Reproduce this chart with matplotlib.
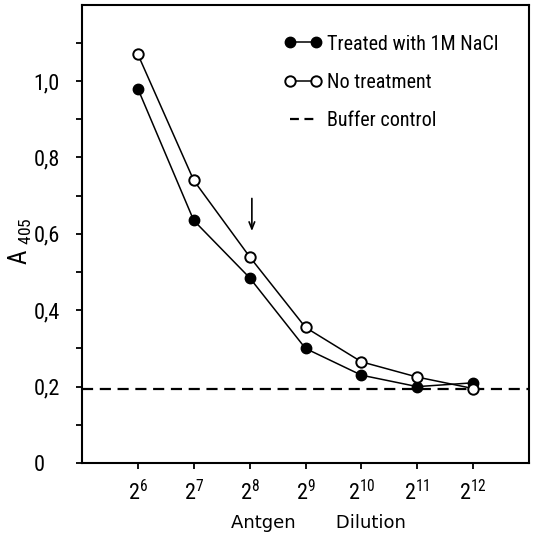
import numpy as np
import matplotlib
matplotlib.use('Agg')
import matplotlib.pyplot as plt
from matplotlib import font_manager
from matplotlib.lines import Line2D

# data
dilution_exp = [6, 7, 8, 9, 10, 11, 12]
treated_nacl = [0.98, 0.635, 0.485, 0.30, 0.23, 0.20, 0.21]
no_treatment = [1.07, 0.74, 0.54, 0.355, 0.265, 0.225, 0.195]
buffer_control = 0.195

y_ticks = [0, 0.2, 0.4, 0.6, 0.8, 1.0]
y_ticklabels = ['0', '0,2', '0,4', '0,6', '0,8', '1,0']
legend_labels = ['Treated with 1M NaCl', 'No treatment', 'Buffer control']

names = {f.name for f in font_manager.fontManager.ttflist}
narrow = next((n for n in ['Liberation Sans Narrow', 'DejaVu Sans Condensed',
                           'Roboto Condensed', 'Liberation Sans'] if n in names), 'DejaVu Sans')

plt.rcParams['font.family'] = [narrow, 'DejaVu Sans']
plt.rcParams['mathtext.fontset'] = 'custom'
plt.rcParams['mathtext.rm'] = narrow
plt.rcParams['mathtext.it'] = narrow
plt.rcParams['mathtext.bf'] = narrow

fig = plt.figure(figsize=(5.35, 5.37), dpi=100)
ax = fig.add_axes([0.1533, 0.1378, 0.8355, 0.8534])

ax.axhline(buffer_control, color='black', lw=1.6, ls=(0, (5, 3)), zorder=1)
ax.plot(dilution_exp, treated_nacl, color='black', lw=1.1, marker='o', ms=7.5,
        mfc='black', mec='black', zorder=3)
ax.plot(dilution_exp, no_treatment, color='black', lw=1.1, marker='o', ms=7.5,
        mfc='white', mec='black', mew=1.4, zorder=3)

# arrow above the 2^8 point
ax.annotate('', xy=(dilution_exp[2] + 0.04, no_treatment[2] + 0.06),
            xytext=(dilution_exp[2] + 0.04, no_treatment[2] + 0.16),
            arrowprops=dict(arrowstyle='->,head_length=0.5,head_width=0.2',
                            color='black', lw=1.2))

ax.set_xlim(5, 13)
ax.set_ylim(0, 1.2)

ax.set_xticks(dilution_exp)
ax.set_xticklabels([r'$\mathregular{2^{%d}}$' % e for e in dilution_exp], fontsize=16)
ax.set_yticks(y_ticks)
ax.set_yticklabels(y_ticklabels, fontsize=16, ha='left')
ax.set_yticks(np.arange(0.1, 1.2, 0.2), minor=True)

ax.tick_params(axis='y', which='both', direction='out', length=4, width=1.3, pad=31)
ax.tick_params(axis='x', direction='out', length=4, width=1.3, pad=8)

for s in ax.spines.values():
    s.set_linewidth(1.5)

ax.set_xlabel('Antgen       Dilution', fontsize=13, family='DejaVu Sans')
ax.xaxis.set_label_coords(0.528, -0.112)
ax.set_ylabel(r'A $\mathregular{_{405}}$', fontsize=18)
ax.yaxis.set_label_coords(-0.108, 0.485)

handles = [
    Line2D([], [], color='black', lw=1.1, marker='o', ms=7.5, mfc='black'),
    Line2D([], [], color='black', lw=1.1, marker='o', ms=7.5, mfc='white', mew=1.4),
    Line2D([], [], color='black', lw=1.6, ls=(0, (4, 2.5))),
]
ax.legend(handles, legend_labels, loc='upper left', bbox_to_anchor=(0.452, 0.935),
          frameon=False, numpoints=2, handlelength=1.89, handletextpad=0.22,
          labelspacing=0.95, borderpad=0, borderaxespad=0, fontsize=14.5)

fig.savefig('out.png', dpi=100)
